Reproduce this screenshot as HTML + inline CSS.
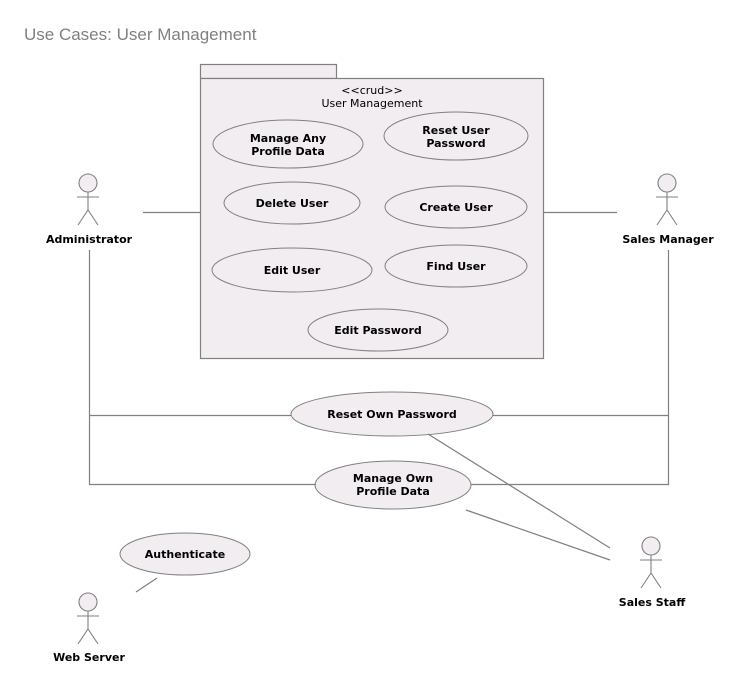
<!DOCTYPE html>
<html><head><meta charset="utf-8"><style>
html,body{margin:0;padding:0;background:#fff;width:740px;height:689px;overflow:hidden}
svg{display:block}
text{font-family:"DejaVu Sans","Liberation Sans",sans-serif}
.b{font-size:11px;font-weight:bold;fill:#000}
</style></head><body>
<svg width="740" height="689" viewBox="0 0 740 689">
<text x="24" y="40" font-size="17" fill="#808080" style="font-family:'Liberation Sans',sans-serif">Use Cases: User Management</text>
<g fill="#f1edf1" stroke="#808080" stroke-width="1.2">
<rect x="200.5" y="64.5" width="136" height="14"/>
<rect x="200.5" y="78.5" width="343" height="280"/>
</g>
<text x="372" y="94" font-size="11" text-anchor="middle">&lt;&lt;crud&gt;&gt;</text>
<text x="372" y="107" font-size="11" text-anchor="middle">User Management</text>
<g fill="#f1edf1" stroke="#808080" stroke-width="1">
<ellipse cx="288" cy="144" rx="75" ry="24"/>
<ellipse cx="456" cy="136" rx="72" ry="24"/>
<ellipse cx="292" cy="203" rx="68" ry="21"/>
<ellipse cx="456" cy="207" rx="71" ry="21"/>
<ellipse cx="292" cy="270" rx="80" ry="22"/>
<ellipse cx="456" cy="266" rx="71" ry="21"/>
<ellipse cx="378" cy="330" rx="70" ry="21"/>
<ellipse cx="392" cy="414" rx="101" ry="22"/>
<ellipse cx="393" cy="485" rx="78" ry="24"/>
<ellipse cx="185" cy="554" rx="65" ry="21"/>
</g>
<g class="b" text-anchor="middle">
<text class="b" x="288" y="142">Manage Any</text><text class="b" x="288" y="155">Profile Data</text>
<text class="b" x="456" y="134">Reset User</text><text class="b" x="456" y="147">Password</text>
<text class="b" x="292" y="207">Delete User</text>
<text class="b" x="456" y="211">Create User</text>
<text class="b" x="292" y="274">Edit User</text>
<text class="b" x="456" y="270">Find User</text>
<text class="b" x="378" y="334">Edit Password</text>
<text class="b" x="392" y="418">Reset Own Password</text>
<text class="b" x="393" y="482">Manage Own</text><text class="b" x="393" y="495">Profile Data</text>
<text class="b" x="185" y="558">Authenticate</text>
<text class="b" x="89" y="243">Administrator</text>
<text class="b" x="668" y="243">Sales Manager</text>
<text class="b" x="652" y="606">Sales Staff</text>
<text class="b" x="89" y="661">Web Server</text>
</g>
<g stroke="#808080" stroke-width="1.2" fill="none">
<path d="M143 212.5H200M543 212.5H617"/>
<path d="M89.5 250V484.5H316M89.5 415.5H291"/>
<path d="M668.5 250V484.5H471M493 415.5H668"/>
<path d="M428 434L610 548M466 510L610 560M157 578L136 592"/>
</g>
<g stroke="#808080" stroke-width="1.1" fill="#f1edf1">
<g transform="translate(88,183)"><circle r="9"/><path d="M0 9V27M-11 14H11M0 27L-10 42M0 27L10 42" fill="none"/></g>
<g transform="translate(667,183)"><circle r="9"/><path d="M0 9V27M-11 14H11M0 27L-10 42M0 27L10 42" fill="none"/></g>
<g transform="translate(651,546)"><circle r="9"/><path d="M0 9V27M-11 14H11M0 27L-10 42M0 27L10 42" fill="none"/></g>
<g transform="translate(88,602)"><circle r="9"/><path d="M0 9V27M-11 14H11M0 27L-10 42M0 27L10 42" fill="none"/></g>
</g>
</svg>
</body></html>
